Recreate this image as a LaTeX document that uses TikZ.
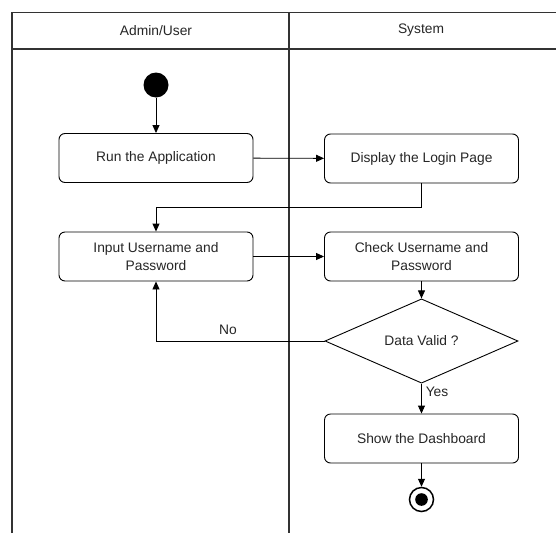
\documentclass[tikz,border=0pt]{standalone}
\usepackage{fontspec}
\setmainfont{Liberation Sans}
\usetikzlibrary{arrows.meta,shapes.geometric}

\tikzset{
  lane/.style={draw=black!80, line width=1.1pt},
  action/.style={draw, line width=0.9pt, rounded corners=6pt, minimum width=194pt,
    minimum height=49pt, inner sep=0pt, align=center, text=black!85,
    font=\fontsize{13.8}{18}\selectfont},
  decision/.style={draw, line width=0.9pt, diamond, minimum width=193pt,
    minimum height=72pt, inner sep=0pt, text=black!85,
    font=\fontsize{13.8}{18}\selectfont},
  lanetitle/.style={text=black!85, font=\fontsize{13.8}{18}\selectfont},
  flow/.style={draw, line width=0.9pt, -{Triangle[length=8pt,width=7pt]}},
  guard/.style={text=black!85, font=\fontsize{13.8}{18}\selectfont},
}

\begin{document}
\begin{tikzpicture}[x=1pt, y=-1pt]
  \useasboundingbox (0,0) rectangle (556,533);
  \fill[white] (0,0) rectangle (556,533);

  % swimlanes
  \draw[lane] (12,533) -- (12,12.5) -- (556,12.5);
  \draw[lane] (12,49) -- (556,49);
  \draw[lane] (289,12.5) -- (289,533);
  \node[lanetitle] (laneA) at (156,30.5) {Admin/User};
  \node[lanetitle] (laneS) at (421,30.5) {System};

  % initial and final states
  \node[circle, fill=black, minimum size=25pt, inner sep=0pt] (start) at (156,85) {};
  \node[circle, draw, line width=1.5pt, minimum size=24pt, inner sep=0pt] (stop) at (421.5,499.5) {};
  \fill (stop.center) circle (6.3pt);

  % actions
  \node[action] (run) at (156,158) {Run the Application};
  \node[action] (login) at (421.5,158.5) {Display the Login Page};
  \node[action] (input) at (156,256.5) {Input Username and\\Password};
  \node[action] (check) at (421.5,256.5) {Check Username and\\Password};
  \node[decision] (valid) at (421.5,341) {Data Valid ?};
  \node[action] (dash) at (421.5,438.5) {Show the Dashboard};

  % bend points
  \coordinate (b1) at (421.5,207);
  \coordinate (b2) at (156,207);
  \coordinate (b3) at (156,341);

  % control flow
  \draw[flow] (start) -- (run);
  \draw[flow] (run) -- (login);
  \draw[flow] (login.south) -- (b1) -- (b2) -- (input.north);
  \draw[flow] (input) -- (check);
  \draw[flow] (check) -- (valid.north);
  \draw[flow] (valid.west) -- (b3) -- (input.south);
  \node[guard] (no) at (228,330) {No};
  \draw[flow] (valid.south) -- (dash.north);
  \node[guard] (yes) at (437,392) {Yes};
  \draw[flow] (dash) -- (stop);
\end{tikzpicture}
\end{document}
